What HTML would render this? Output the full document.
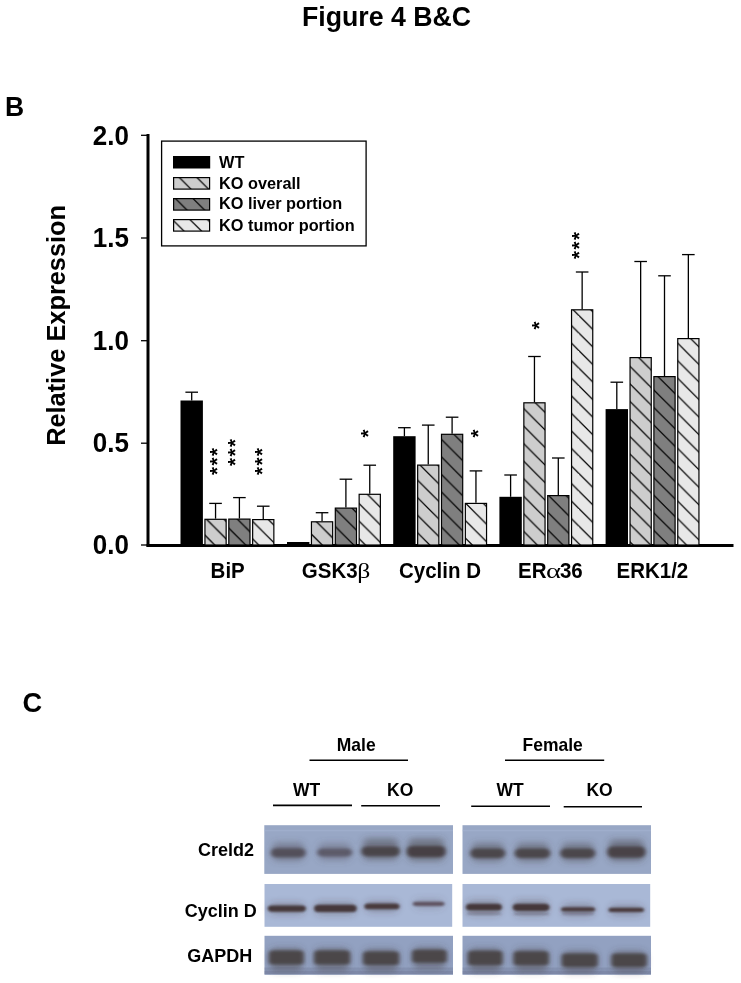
<!DOCTYPE html>
<html><head><meta charset="utf-8"><style>
html,body{margin:0;padding:0;background:#fff;}
svg{display:block;will-change:transform;}
text{font-family:"Liberation Sans",sans-serif;font-weight:bold;fill:#000;}
.e{stroke:#000;stroke-width:1.3;}
.ax{stroke:#000;stroke-width:3;}
.tk{stroke:#000;stroke-width:1.3;}
.ul{stroke:#000;stroke-width:1.6;}
.sym{font-family:"Liberation Serif",serif;font-weight:normal;}
</style></head><body>
<svg width="741" height="983" viewBox="0 0 741 983">
<defs>
<pattern id="p01" patternUnits="userSpaceOnUse" width="17.55" height="17.55"><rect width="17.55" height="17.55" fill="#cdcdcd"/><path d="M-2,-5.150 L19.550,16.400 M-2,12.400 L19.550,33.950 M-2,29.950 L19.550,51.500" stroke="#000" stroke-width="1.25"/></pattern>
<pattern id="p02" patternUnits="userSpaceOnUse" width="17.55" height="17.55"><rect width="17.55" height="17.55" fill="#7f7f7f"/><path d="M-2,-18.550 L19.550,3.000 M-2,-1.000 L19.550,20.550 M-2,16.550 L19.550,38.100" stroke="#000" stroke-width="1.25"/></pattern>
<pattern id="p03" patternUnits="userSpaceOnUse" width="17.55" height="17.55"><rect width="17.55" height="17.55" fill="#e8e8e8"/><path d="M-2,-14.050 L19.550,7.500 M-2,3.500 L19.550,25.050 M-2,21.050 L19.550,42.600" stroke="#000" stroke-width="1.25"/></pattern>
<pattern id="p11" patternUnits="userSpaceOnUse" width="17.55" height="17.55"><rect width="17.55" height="17.55" fill="#cdcdcd"/><path d="M-2,-7.350 L19.550,14.200 M-2,10.200 L19.550,31.750 M-2,27.750 L19.550,49.300" stroke="#000" stroke-width="1.25"/></pattern>
<pattern id="p12" patternUnits="userSpaceOnUse" width="17.55" height="17.55"><rect width="17.55" height="17.55" fill="#7f7f7f"/><path d="M-2,-3.850 L19.550,17.700 M-2,13.700 L19.550,35.250 M-2,31.250 L19.550,52.800" stroke="#000" stroke-width="1.25"/></pattern>
<pattern id="p13" patternUnits="userSpaceOnUse" width="17.55" height="17.55"><rect width="17.55" height="17.55" fill="#e8e8e8"/><path d="M-2,-15.450 L19.550,6.100 M-2,2.100 L19.550,23.650 M-2,19.650 L19.550,41.200" stroke="#000" stroke-width="1.25"/></pattern>
<pattern id="p21" patternUnits="userSpaceOnUse" width="17.55" height="17.55"><rect width="17.55" height="17.55" fill="#cdcdcd"/><path d="M-2,-9.650 L19.550,11.900 M-2,7.900 L19.550,29.450 M-2,25.450 L19.550,47.000" stroke="#000" stroke-width="1.25"/></pattern>
<pattern id="p22" patternUnits="userSpaceOnUse" width="17.55" height="17.55"><rect width="17.55" height="17.55" fill="#7f7f7f"/><path d="M-2,-4.050 L19.550,17.500 M-2,13.500 L19.550,35.050 M-2,31.050 L19.550,52.600" stroke="#000" stroke-width="1.25"/></pattern>
<pattern id="p23" patternUnits="userSpaceOnUse" width="17.55" height="17.55"><rect width="17.55" height="17.55" fill="#e8e8e8"/><path d="M-2,-17.050 L19.550,4.500 M-2,0.500 L19.550,22.050 M-2,18.050 L19.550,39.600" stroke="#000" stroke-width="1.25"/></pattern>
<pattern id="p31" patternUnits="userSpaceOnUse" width="17.55" height="17.55"><rect width="17.55" height="17.55" fill="#cdcdcd"/><path d="M-2,-11.800 L19.550,9.750 M-2,5.750 L19.550,27.300 M-2,23.300 L19.550,44.850" stroke="#000" stroke-width="1.25"/></pattern>
<pattern id="p32" patternUnits="userSpaceOnUse" width="17.55" height="17.55"><rect width="17.55" height="17.55" fill="#7f7f7f"/><path d="M-2,-2.450 L19.550,19.100 M-2,15.100 L19.550,36.650 M-2,32.650 L19.550,54.200" stroke="#000" stroke-width="1.25"/></pattern>
<pattern id="p33" patternUnits="userSpaceOnUse" width="17.55" height="17.55"><rect width="17.55" height="17.55" fill="#e8e8e8"/><path d="M-2,-2.150 L19.550,19.400 M-2,15.400 L19.550,36.950 M-2,32.950 L19.550,54.500" stroke="#000" stroke-width="1.25"/></pattern>
<pattern id="p41" patternUnits="userSpaceOnUse" width="17.55" height="17.55"><rect width="17.55" height="17.55" fill="#cdcdcd"/><path d="M-2,-2.350 L19.550,19.200 M-2,15.200 L19.550,36.750 M-2,32.750 L19.550,54.300" stroke="#000" stroke-width="1.25"/></pattern>
<pattern id="p42" patternUnits="userSpaceOnUse" width="17.55" height="17.55"><rect width="17.55" height="17.55" fill="#7f7f7f"/><path d="M-2,-2.650 L19.550,18.900 M-2,14.900 L19.550,36.450 M-2,32.450 L19.550,54.000" stroke="#000" stroke-width="1.25"/></pattern>
<pattern id="p43" patternUnits="userSpaceOnUse" width="17.55" height="17.55"><rect width="17.55" height="17.55" fill="#e8e8e8"/><path d="M-2,-3.050 L19.550,18.500 M-2,14.500 L19.550,36.050 M-2,32.050 L19.550,53.600" stroke="#000" stroke-width="1.25"/></pattern>
<pattern id="l1" patternUnits="userSpaceOnUse" width="17.55" height="17.55"><rect width="17.55" height="17.55" fill="#cdcdcd"/><path d="M-2,-3.900 L19.550,17.650 M-2,13.650 L19.550,35.200 M-2,31.200 L19.550,52.750" stroke="#000" stroke-width="1.25"/></pattern>
<pattern id="l2" patternUnits="userSpaceOnUse" width="17.55" height="17.55"><rect width="17.55" height="17.55" fill="#7f7f7f"/><path d="M-2,-14.050 L19.550,7.500 M-2,3.500 L19.550,25.050 M-2,21.050 L19.550,42.600" stroke="#000" stroke-width="1.25"/></pattern>
<pattern id="l3" patternUnits="userSpaceOnUse" width="17.55" height="17.55"><rect width="17.55" height="17.55" fill="#e8e8e8"/><path d="M-2,-7.550 L19.550,14.000 M-2,10.000 L19.550,31.550 M-2,27.550 L19.550,49.100" stroke="#000" stroke-width="1.25"/></pattern>
<filter id="bl" x="-20%" y="-60%" width="140%" height="220%"><feGaussianBlur stdDeviation="2.0 1.6"/></filter>
<filter id="bl3" x="-20%" y="-60%" width="140%" height="220%"><feGaussianBlur stdDeviation="1.4 1.0"/></filter>
<filter id="bl2" x="-20%" y="-60%" width="140%" height="220%"><feGaussianBlur stdDeviation="3.5 3"/></filter>
</defs>
<text transform="translate(302,26.3) scale(1,1.04)" font-size="26.7">Figure 4 B&amp;C</text>
<text transform="translate(5,116) scale(1,1.04)" font-size="26.5">B</text>
<text transform="translate(22.6,711.6) scale(1,1.04)" font-size="27.2">C</text>

<!-- axes -->
<line x1="148" y1="134" x2="148" y2="546.8" class="ax"/>
<line x1="146.5" y1="545.4" x2="733.5" y2="545.4" class="ax"/>
<line x1="141" y1="135.3" x2="148" y2="135.3" class="tk"/>
<line x1="141" y1="238" x2="148" y2="238" class="tk"/>
<line x1="141" y1="340.7" x2="148" y2="340.7" class="tk"/>
<line x1="141" y1="443.2" x2="148" y2="443.2" class="tk"/>
<line x1="141" y1="545" x2="148" y2="545" class="tk"/>
<g font-size="26" text-anchor="end">
<text transform="translate(129,144.5) scale(1,1.04)">2.0</text>
<text transform="translate(129,247.2) scale(1,1.04)">1.5</text>
<text transform="translate(129,349.9) scale(1,1.04)">1.0</text>
<text transform="translate(129,452.4) scale(1,1.04)">0.5</text>
<text transform="translate(129,554.2) scale(1,1.04)">0.0</text>
</g>
<text transform="translate(65.1,325.4) rotate(-90) scale(1,1.04)" font-size="25.35" text-anchor="middle">Relative Expression</text>

<!-- legend -->
<rect x="161.6" y="141.1" width="204.5" height="104.8" fill="none" stroke="#000" stroke-width="1.3"/>
<rect x="173" y="156" width="37.2" height="12.5" fill="#000"/>
<rect x="173.6" y="177.6" width="36" height="11.5" fill="url(#l1)" stroke="#000" stroke-width="1.2"/>
<rect x="173.6" y="198.6" width="36" height="11.5" fill="url(#l2)" stroke="#000" stroke-width="1.2"/>
<rect x="173.6" y="219.6" width="36" height="11.5" fill="url(#l3)" stroke="#000" stroke-width="1.2"/>
<g font-size="16.3">
<text transform="translate(219.1,167.8) scale(1,1.04)">WT</text>
<text transform="translate(219.1,188.5) scale(1,1.04)">KO overall</text>
<text transform="translate(219.1,209.4) scale(1,1.04)">KO liver portion</text>
<text transform="translate(219.1,230.5) scale(1,1.04)">KO tumor portion</text>
</g>

<line x1="191.70" y1="400.50" x2="191.70" y2="392.20" class="e"/>
<line x1="185.40" y1="392.20" x2="198.00" y2="392.20" class="e"/>
<rect x="180.50" y="400.50" width="22.40" height="144.50" fill="#000"/>
<line x1="215.55" y1="518.70" x2="215.55" y2="503.40" class="e"/>
<line x1="209.25" y1="503.40" x2="221.85" y2="503.40" class="e"/>
<rect x="204.95" y="519.30" width="21.20" height="25.70" fill="url(#p01)" stroke="#000" stroke-width="1.2"/>
<line x1="239.40" y1="518.50" x2="239.40" y2="497.60" class="e"/>
<line x1="233.10" y1="497.60" x2="245.70" y2="497.60" class="e"/>
<rect x="228.80" y="519.10" width="21.20" height="25.90" fill="url(#p02)" stroke="#000" stroke-width="1.2"/>
<line x1="263.25" y1="519.00" x2="263.25" y2="506.20" class="e"/>
<line x1="256.95" y1="506.20" x2="269.55" y2="506.20" class="e"/>
<rect x="252.65" y="519.60" width="21.20" height="25.40" fill="url(#p03)" stroke="#000" stroke-width="1.2"/>
<rect x="287.00" y="542.00" width="22.40" height="3.00" fill="#000"/>
<line x1="322.05" y1="521.20" x2="322.05" y2="512.70" class="e"/>
<line x1="315.75" y1="512.70" x2="328.35" y2="512.70" class="e"/>
<rect x="311.45" y="521.80" width="21.20" height="23.20" fill="url(#p11)" stroke="#000" stroke-width="1.2"/>
<line x1="345.90" y1="507.50" x2="345.90" y2="479.20" class="e"/>
<line x1="339.60" y1="479.20" x2="352.20" y2="479.20" class="e"/>
<rect x="335.30" y="508.10" width="21.20" height="36.90" fill="url(#p12)" stroke="#000" stroke-width="1.2"/>
<line x1="369.75" y1="493.70" x2="369.75" y2="465.20" class="e"/>
<line x1="363.45" y1="465.20" x2="376.05" y2="465.20" class="e"/>
<rect x="359.15" y="494.30" width="21.20" height="50.70" fill="url(#p13)" stroke="#000" stroke-width="1.2"/>
<line x1="404.40" y1="436.20" x2="404.40" y2="427.70" class="e"/>
<line x1="398.10" y1="427.70" x2="410.70" y2="427.70" class="e"/>
<rect x="393.20" y="436.20" width="22.40" height="108.80" fill="#000"/>
<line x1="428.25" y1="464.50" x2="428.25" y2="425.10" class="e"/>
<line x1="421.95" y1="425.10" x2="434.55" y2="425.10" class="e"/>
<rect x="417.65" y="465.10" width="21.20" height="79.90" fill="url(#p21)" stroke="#000" stroke-width="1.2"/>
<line x1="452.10" y1="433.70" x2="452.10" y2="417.20" class="e"/>
<line x1="445.80" y1="417.20" x2="458.40" y2="417.20" class="e"/>
<rect x="441.50" y="434.30" width="21.20" height="110.70" fill="url(#p22)" stroke="#000" stroke-width="1.2"/>
<line x1="475.95" y1="502.80" x2="475.95" y2="470.90" class="e"/>
<line x1="469.65" y1="470.90" x2="482.25" y2="470.90" class="e"/>
<rect x="465.35" y="503.40" width="21.20" height="41.60" fill="url(#p23)" stroke="#000" stroke-width="1.2"/>
<line x1="510.60" y1="496.80" x2="510.60" y2="475.00" class="e"/>
<line x1="504.30" y1="475.00" x2="516.90" y2="475.00" class="e"/>
<rect x="499.40" y="496.80" width="22.40" height="48.20" fill="#000"/>
<line x1="534.45" y1="402.20" x2="534.45" y2="356.50" class="e"/>
<line x1="528.15" y1="356.50" x2="540.75" y2="356.50" class="e"/>
<rect x="523.85" y="402.80" width="21.20" height="142.20" fill="url(#p31)" stroke="#000" stroke-width="1.2"/>
<line x1="558.30" y1="495.00" x2="558.30" y2="458.00" class="e"/>
<line x1="552.00" y1="458.00" x2="564.60" y2="458.00" class="e"/>
<rect x="547.70" y="495.60" width="21.20" height="49.40" fill="url(#p32)" stroke="#000" stroke-width="1.2"/>
<line x1="582.15" y1="309.20" x2="582.15" y2="272.00" class="e"/>
<line x1="575.85" y1="272.00" x2="588.45" y2="272.00" class="e"/>
<rect x="571.55" y="309.80" width="21.20" height="235.20" fill="url(#p33)" stroke="#000" stroke-width="1.2"/>
<line x1="616.80" y1="409.10" x2="616.80" y2="382.20" class="e"/>
<line x1="610.50" y1="382.20" x2="623.10" y2="382.20" class="e"/>
<rect x="605.60" y="409.10" width="22.40" height="135.90" fill="#000"/>
<line x1="640.65" y1="357.00" x2="640.65" y2="261.50" class="e"/>
<line x1="634.35" y1="261.50" x2="646.95" y2="261.50" class="e"/>
<rect x="630.05" y="357.60" width="21.20" height="187.40" fill="url(#p41)" stroke="#000" stroke-width="1.2"/>
<line x1="664.50" y1="376.00" x2="664.50" y2="275.80" class="e"/>
<line x1="658.20" y1="275.80" x2="670.80" y2="275.80" class="e"/>
<rect x="653.90" y="376.60" width="21.20" height="168.40" fill="url(#p42)" stroke="#000" stroke-width="1.2"/>
<line x1="688.35" y1="338.00" x2="688.35" y2="254.60" class="e"/>
<line x1="682.05" y1="254.60" x2="694.65" y2="254.60" class="e"/>
<rect x="677.75" y="338.60" width="21.20" height="206.40" fill="url(#p43)" stroke="#000" stroke-width="1.2"/>

<text transform="translate(224.46,451.90) rotate(-90)" font-size="20.5" text-anchor="middle">*</text>
<text transform="translate(224.46,461.50) rotate(-90)" font-size="20.5" text-anchor="middle">*</text>
<text transform="translate(224.46,470.90) rotate(-90)" font-size="20.5" text-anchor="middle">*</text>
<text transform="translate(242.36,442.90) rotate(-90)" font-size="20.5" text-anchor="middle">*</text>
<text transform="translate(242.36,452.50) rotate(-90)" font-size="20.5" text-anchor="middle">*</text>
<text transform="translate(242.36,462.10) rotate(-90)" font-size="20.5" text-anchor="middle">*</text>
<text transform="translate(268.66,451.90) rotate(-90)" font-size="20.5" text-anchor="middle">*</text>
<text transform="translate(268.66,461.50) rotate(-90)" font-size="20.5" text-anchor="middle">*</text>
<text transform="translate(268.66,470.90) rotate(-90)" font-size="20.5" text-anchor="middle">*</text>
<text transform="translate(375.36,433.50) rotate(-90)" font-size="20.5" text-anchor="middle">*</text>
<text transform="translate(485.16,433.60) rotate(-90)" font-size="20.5" text-anchor="middle">*</text>
<text transform="translate(546.26,325.60) rotate(-90)" font-size="20.5" text-anchor="middle">*</text>
<text transform="translate(586.46,235.90) rotate(-90)" font-size="20.5" text-anchor="middle">*</text>
<text transform="translate(586.46,245.40) rotate(-90)" font-size="20.5" text-anchor="middle">*</text>
<text transform="translate(586.46,254.90) rotate(-90)" font-size="20.5" text-anchor="middle">*</text>

<!-- x labels -->
<g font-size="20.5">
<text transform="translate(210.6,577.9) scale(1,1.04)">BiP</text>
<text transform="translate(301.8,577.9) scale(1,1.04)">GSK3</text>
<text transform="translate(399,577.9) scale(1,1.04)">Cyclin D</text>
<text transform="translate(518,577.9) scale(1,1.04)">ER</text>
<text transform="translate(559.9,577.9) scale(1,1.04)">36</text>
<text transform="translate(616.5,577.9) scale(1,1.04)">ERK1/2</text>
</g>
<text class="sym" transform="translate(357.2,577.9) scale(1.17,1)" font-size="22">β</text>
<text class="sym" transform="translate(546.0,577.9) scale(1.3,1)" font-size="22">α</text>

<!-- blot header -->
<g font-size="17.5" text-anchor="middle">
<text transform="translate(356.2,750.5) scale(1,1.04)">Male</text>
<text transform="translate(552.7,750.5) scale(1,1.04)">Female</text>
<text transform="translate(306.6,795.7) scale(1,1.04)">WT</text>
<text transform="translate(400.2,795.7) scale(1,1.04)">KO</text>
<text transform="translate(510,795.7) scale(1,1.04)">WT</text>
<text transform="translate(599.5,795.7) scale(1,1.04)">KO</text>
</g>
<line x1="309.5" y1="760.2" x2="408" y2="760.2" class="ul"/>
<line x1="505" y1="760.2" x2="604.2" y2="760.2" class="ul"/>
<line x1="273" y1="805.4" x2="352" y2="805.4" class="ul"/>
<line x1="361.2" y1="805.8" x2="440" y2="805.8" class="ul"/>
<line x1="471.2" y1="806.3" x2="550" y2="806.3" class="ul"/>
<line x1="563.7" y1="806.7" x2="642" y2="806.7" class="ul"/>
<g font-size="18" text-anchor="end">
<text transform="translate(254,856.2) scale(1,1.04)">Creld2</text>
<text transform="translate(256.8,917.3) scale(1,1.04)">Cyclin D</text>
<text transform="translate(252.2,962.2) scale(1,1.04)">GAPDH</text>
</g>

<rect x="264.3" y="825.2" width="188.7" height="48.7" fill="#98a7c5"/>
<rect x="462.5" y="825.2" width="188.5" height="48.7" fill="#98a7c5"/>
<rect x="264.5" y="884.0" width="187.7" height="42.8" fill="#a9b8d6"/>
<rect x="462.5" y="884.0" width="187.7" height="42.8" fill="#a9b8d6"/>
<rect x="264.5" y="935.8" width="188.5" height="39.0" fill="#92a1c1"/>
<rect x="462.5" y="935.8" width="188.5" height="39.0" fill="#92a1c1"/>
<rect x="264.3" y="829.8" width="188.7" height="1.6" fill="#a9bad8" opacity="0.4"/>
<rect x="264.3" y="967.5" width="188.7" height="6.5" fill="#5d6680" opacity="0.22"/>
<rect x="264.3" y="971" width="188.7" height="3.5" fill="#5d6680" opacity="0.2"/>
<rect x="462.5" y="829.8" width="188.5" height="1.6" fill="#a9bad8" opacity="0.4"/>
<rect x="462.5" y="967.5" width="188.5" height="6.5" fill="#5d6680" opacity="0.22"/>
<rect x="462.5" y="971" width="188.5" height="3.5" fill="#5d6680" opacity="0.2"/>
<g filter="url(#bl3)" opacity="0.45">
<rect x="467" y="912.6" width="34" height="2" fill="#5a5468"/>
<rect x="514" y="912.8" width="35" height="2" fill="#5a5468"/>
<rect x="562" y="912.8" width="32" height="2" fill="#5a5468"/>
</g>
<g filter="url(#bl2)">
<rect x="272.5" y="842.5" width="31.5" height="18.5" rx="5" fill="#524f5a" opacity="0.45"/>
<rect x="318.8" y="842.9" width="31.7" height="17.5" rx="5" fill="#5c5a69" opacity="0.4"/>
<rect x="363.0" y="838.6" width="35.2" height="21.5" rx="5" fill="#4a4549" opacity="0.5"/>
<rect x="408.3" y="838.4" width="35.7" height="22.5" rx="5" fill="#464144" opacity="0.5"/>
<rect x="471.9" y="842.7" width="31.7" height="19.0" rx="5" fill="#4c474c" opacity="0.45"/>
<rect x="516.3" y="842.7" width="32.3" height="19.0" rx="5" fill="#4c474c" opacity="0.45"/>
<rect x="561.9" y="842.7" width="31.7" height="19.0" rx="5" fill="#4c474c" opacity="0.45"/>
<rect x="609.0" y="839.8" width="34.8" height="21.5" rx="5" fill="#484346" opacity="0.5"/>
<rect x="269.3" y="902.7" width="35.1" height="11.8" rx="5" fill="#45383b" opacity="0.3"/>
<rect x="315.6" y="902.0" width="39.6" height="12.8" rx="5" fill="#45383b" opacity="0.3"/>
<rect x="365.9" y="900.9" width="32.1" height="11.3" rx="5" fill="#483b3e" opacity="0.3"/>
<rect x="414.3" y="898.9" width="28.7" height="9.8" rx="5" fill="#5e5260" opacity="0.25"/>
<rect x="467.4" y="900.0" width="33.0" height="15.3" rx="5" fill="#45383b" opacity="0.3"/>
<rect x="514.2" y="899.9" width="33.8" height="15.8" rx="5" fill="#45383b" opacity="0.3"/>
<rect x="562.6" y="903.5" width="31.0" height="12.8" rx="5" fill="#483b3e" opacity="0.3"/>
<rect x="610.0" y="905.0" width="32.5" height="10.8" rx="5" fill="#483b3e" opacity="0.3"/>
<rect x="270.4" y="947.9" width="31.8" height="23.5" rx="5" fill="#4b4749" opacity="0.45"/>
<rect x="315.6" y="947.9" width="33.0" height="23.5" rx="5" fill="#4b4749" opacity="0.45"/>
<rect x="364.5" y="948.8" width="33.1" height="23.0" rx="5" fill="#4b4749" opacity="0.45"/>
<rect x="413.5" y="947.0" width="31.7" height="22.5" rx="5" fill="#4b4749" opacity="0.45"/>
<rect x="469.3" y="948.0" width="31.7" height="24.0" rx="5" fill="#4b4749" opacity="0.45"/>
<rect x="515.0" y="948.5" width="32.3" height="23.5" rx="5" fill="#4b4749" opacity="0.45"/>
<rect x="563.2" y="950.8" width="33.0" height="22.0" rx="5" fill="#4b4749" opacity="0.45"/>
<rect x="613.0" y="950.8" width="32.2" height="22.0" rx="5" fill="#4b4749" opacity="0.45"/>
</g>
<rect filter="url(#bl)" x="271.0" y="848.3" width="34.5" height="8.9" rx="5.0" fill="#524f5a"/>
<rect filter="url(#bl)" x="317.3" y="848.6" width="34.7" height="7.9" rx="4.8" fill="#5c5a69"/>
<rect filter="url(#bl)" x="361.5" y="846.4" width="38.2" height="9.9" rx="5.0" fill="#4a4549"/>
<rect filter="url(#bl)" x="406.8" y="846.1" width="38.7" height="10.9" rx="5.0" fill="#464144"/>
<rect filter="url(#bl)" x="470.4" y="848.5" width="34.7" height="9.4" rx="5.0" fill="#4c474c"/>
<rect filter="url(#bl)" x="514.8" y="848.5" width="35.3" height="9.4" rx="5.0" fill="#4c474c"/>
<rect filter="url(#bl)" x="560.4" y="848.5" width="34.7" height="9.4" rx="5.0" fill="#4c474c"/>
<rect filter="url(#bl)" x="607.5" y="846.5" width="37.8" height="10.9" rx="5.0" fill="#484346"/>
<rect filter="url(#bl3)" x="267.8" y="905.5" width="38.1" height="6.2" rx="3.9" fill="#45383b"/>
<rect filter="url(#bl3)" x="314.1" y="904.8" width="42.6" height="7.2" rx="4.4" fill="#45383b"/>
<rect filter="url(#bl3)" x="364.4" y="903.6" width="35.1" height="5.7" rx="3.6" fill="#483b3e"/>
<rect filter="url(#bl3)" x="412.8" y="901.7" width="31.7" height="4.2" rx="2.9" fill="#5e5260"/>
<rect filter="url(#bl3)" x="465.9" y="903.8" width="36.0" height="6.7" rx="4.2" fill="#45383b"/>
<rect filter="url(#bl3)" x="512.7" y="903.7" width="36.8" height="7.2" rx="4.4" fill="#45383b"/>
<rect filter="url(#bl3)" x="561.1" y="907.3" width="34.0" height="4.2" rx="2.9" fill="#483b3e"/>
<rect filter="url(#bl3)" x="608.5" y="907.8" width="35.5" height="4.2" rx="2.9" fill="#483b3e"/>
<rect filter="url(#bl)" x="268.9" y="950.6" width="34.8" height="13.9" rx="3.5" fill="#4b4749"/>
<rect filter="url(#bl)" x="314.1" y="950.6" width="36.0" height="13.9" rx="3.5" fill="#4b4749"/>
<rect filter="url(#bl)" x="363.0" y="951.6" width="36.1" height="13.4" rx="3.5" fill="#4b4749"/>
<rect filter="url(#bl)" x="412.0" y="949.8" width="34.7" height="12.9" rx="3.5" fill="#4b4749"/>
<rect filter="url(#bl)" x="467.8" y="950.8" width="34.7" height="14.4" rx="3.5" fill="#4b4749"/>
<rect filter="url(#bl)" x="513.5" y="951.3" width="35.3" height="13.9" rx="3.5" fill="#4b4749"/>
<rect filter="url(#bl)" x="561.7" y="953.6" width="36.0" height="13.4" rx="3.5" fill="#4b4749"/>
<rect filter="url(#bl)" x="611.5" y="953.6" width="35.2" height="13.4" rx="3.5" fill="#4b4749"/>
</svg>
</body></html>
